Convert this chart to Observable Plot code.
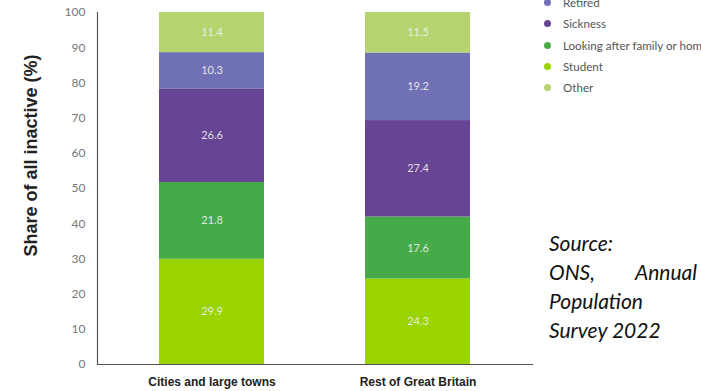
<!DOCTYPE html>
<html>
<head>
<meta charset="utf-8">
<script src="https://cdn.jsdelivr.net/npm/d3@7"></script>
<script src="https://cdn.jsdelivr.net/npm/@observablehq/plot@0.6"></script>
<style>
  html, body { margin: 0; padding: 0; background: #fff; overflow: hidden; width: 701px; height: 391px; }
  #wrap { position: relative; width: 701px; height: 391px; }
  #legend { position: absolute; left: 541px; top: -8px; font-family: Lato, "DejaVu Sans", sans-serif; font-size: 11.6px; color: #555; white-space: nowrap; }
  #legend .row { height: 21.3px; display: flex; align-items: center; }
  #legend .dot { width: 7px; height: 7px; border-radius: 50%; margin-right: 12px; margin-left: 3px; }
  #source { position: absolute; left: 549px; top: 228px; width: 148px; font-family: Lato, sans-serif; font-style: italic; font-size: 21px; line-height: 29px; text-align: justify; color: #111; }
</style>
</head>
<body>
<div id="wrap"></div>
<script>
const categories = ["Cities and large towns", "Rest of Great Britain"];
const series = ["Student", "Looking after family or home", "Sickness", "Retired", "Other"];
const citiesValues = [29.9, 21.8, 26.6, 10.3, 11.4];
const restValues = [24.3, 17.6, 27.4, 19.2, 11.5];
const seriesColors = ["#99d300", "#46aa48", "#674494", "#7070b5", "#b5d36e"];
const legendOrder = ["Retired", "Sickness", "Looking after family or home", "Student", "Other"];
const yTicks = [0, 10, 20, 30, 40, 50, 60, 70, 80, 90, 100];
const yLabel = "Share of all inactive (%)";

const rows = [];
series.forEach((s, i) => {
  rows.push({category: categories[0], series: s, value: citiesValues[i]});
  rows.push({category: categories[1], series: s, value: restValues[i]});
});

const chart = Plot.plot({
  width: 701,
  height: 391,
  marginLeft: 97,
  marginRight: 169,
  marginTop: 12,
  marginBottom: 27,
  style: {fontFamily: "Lato, sans-serif", background: "#fff"},
  x: {domain: categories, paddingInner: 0.488, paddingOuter: 0.295, label: null},
  y: {domain: [0, 100], ticks: yTicks, label: null},
  color: {domain: series, range: seriesColors},
  marks: [
    Plot.barY(rows, Plot.stackY({x: "category", y: "value", fill: "series", order: series})),
    Plot.text(rows, Plot.stackY({x: "category", y: "value", z: "series", order: series, text: d => d.value.toFixed(1), fill: "#f2f2f2", fontSize: 11, fillOpacity: 0.9})),
    Plot.axisY({ticks: yTicks, tickSize: 0, tickPadding: 12, fontSize: 12, fill: "#777", label: null}),
    Plot.axisX({tickSize: 0, tickPadding: 13, fontSize: 12, fontWeight: "bold", fill: "#222", fontFamily: "'Liberation Sans Narrow', 'Liberation Sans', Arial, sans-serif", label: null}),
    Plot.text([yLabel], {frameAnchor: "left", textAnchor: "middle", dx: -66, dy: -33, rotate: -90, fontSize: 18, fontWeight: "bold", fill: "#222", fontFamily: "'Liberation Sans', Arial, sans-serif"}),
    Plot.frame({anchor: "left", stroke: "#555", strokeWidth: 1.2}),
    Plot.frame({anchor: "bottom", stroke: "#555", strokeWidth: 1.2})
  ]
});

const wrap = document.getElementById("wrap");
wrap.appendChild(chart);

const legend = document.createElement("div");
legend.id = "legend";
legendOrder.forEach(name => {
  const row = document.createElement("div");
  row.className = "row";
  const dot = document.createElement("span");
  dot.className = "dot";
  dot.style.background = seriesColors[series.indexOf(name)];
  const label = document.createElement("span");
  label.textContent = name;
  row.appendChild(dot);
  row.appendChild(label);
  legend.appendChild(row);
});
wrap.appendChild(legend);

const source = document.createElement("div");
source.id = "source";
source.innerHTML = "Source:<br>ONS, Annual Population Survey 2022";
wrap.appendChild(source);
</script>
</body>
</html>
